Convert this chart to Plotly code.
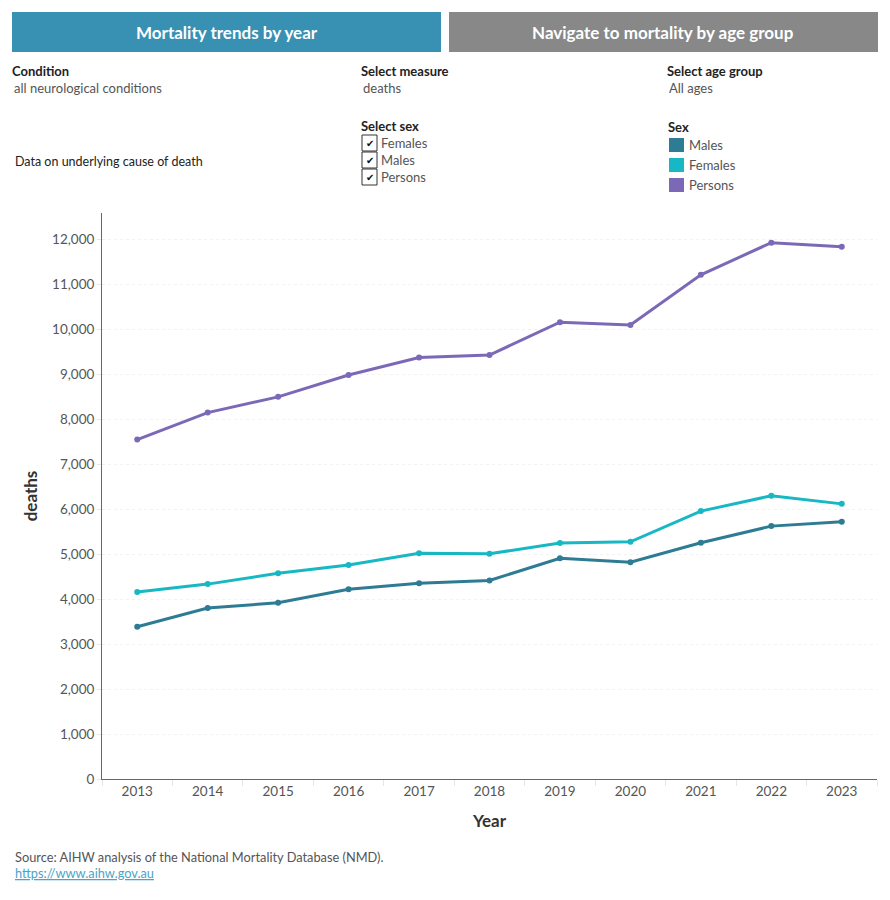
import plotly.graph_objects as go

years = [2013, 2014, 2015, 2016, 2017, 2018, 2019, 2020, 2021, 2022, 2023]
persons = [7550, 8150, 8500, 8985, 9375, 9430, 10160, 10100, 11215, 11930, 11840]
females = [4160, 4335, 4575, 4760, 5020, 5010, 5250, 5275, 5960, 6300, 6120]
males = [3385, 3805, 3920, 4220, 4355, 4415, 4910, 4820, 5255, 5625, 5720]

series_names = ["Males", "Females", "Persons"]
series_colors = {"Males": "#2e7b94", "Females": "#17b8c4", "Persons": "#7b69b8"}
series_values = {"Males": males, "Females": females, "Persons": persons}
y_ticks = [0, 1000, 2000, 3000, 4000, 5000, 6000, 7000, 8000, 9000, 10000, 11000, 12000]

W, H = 890, 900
L, R, T, B = 102, 877, 213, 779
FONT = "Lato"


def px(x):
    return (x - L) / (R - L)


def py(y):
    return (B - y) / (B - T)


fig = go.Figure()
for name in ["Persons", "Females", "Males"]:
    fig.add_trace(go.Scatter(
        x=years, y=series_values[name], mode="lines+markers", name=name,
        line=dict(color=series_colors[name], width=3),
        marker=dict(color=series_colors[name], size=6),
        showlegend=False,
    ))

shapes = []
annotations = []

# header buttons
shapes.append(dict(type="rect", xref="paper", yref="paper", x0=px(12), x1=px(441), y0=py(52), y1=py(12),
                   fillcolor="#3890b3", line=dict(width=0), layer="above"))
shapes.append(dict(type="rect", xref="paper", yref="paper", x0=px(449), x1=px(878), y0=py(52), y1=py(12),
                   fillcolor="#888888", line=dict(width=0), layer="above"))
annotations.append(dict(text="<b>Mortality trends by year</b>", x=px(227), y=py(33), xref="paper", yref="paper",
                        showarrow=False, xanchor="center", yanchor="middle",
                        font=dict(family=FONT, size=17, color="white")))
annotations.append(dict(text="<b>Navigate to mortality by age group</b>", x=px(663), y=py(33), xref="paper", yref="paper",
                        showarrow=False, xanchor="center", yanchor="middle",
                        font=dict(family=FONT, size=17, color="white")))


def txt(s, x, y, size=12, color="#333333", bold=False):
    annotations.append(dict(text=("<b>%s</b>" % s) if bold else s, x=px(x - 2), y=py(y), xref="paper", yref="paper",
                            showarrow=False, xanchor="left", yanchor="middle",
                            font=dict(family=FONT, size=size, color=color)))


txt("Condition", 12, 71, 13, "#222222", True)
txt("all neurological conditions", 14, 88, 13, "#555555")
txt("Select measure", 361, 71, 13, "#222222", True)
txt("deaths", 363, 88, 13, "#555555")
txt("Select age group", 667, 71, 13, "#222222", True)
txt("All ages", 669, 88, 13, "#555555")
txt("Data on underlying cause of death", 15, 161, 12.5, "#222222")
txt("Select sex", 361, 126, 13, "#222222", True)
txt("Sex", 668, 127, 13, "#222222", True)

# checkboxes
for i, name in enumerate(["Females", "Males", "Persons"]):
    y0 = 135 + i * 17
    shapes.append(dict(type="rect", xref="paper", yref="paper", x0=px(362), x1=px(377), y0=py(y0 + 16), y1=py(y0),
                       line=dict(color="#333333", width=1), fillcolor="white", layer="above"))
    annotations.append(dict(text="✔", x=px(369.5), y=py(y0 + 8.5), xref="paper", yref="paper", showarrow=False,
                            xanchor="center", yanchor="middle",
                            font=dict(family="DejaVu Sans", size=10, color="#111111")))
    txt(name, 381, y0 + 8, 13, "#555555")

# legend
for i, name in enumerate(series_names):
    y0 = 138 + i * 20
    shapes.append(dict(type="rect", xref="paper", yref="paper", x0=px(669), x1=px(684), y0=py(y0 + 14), y1=py(y0),
                       line=dict(width=0), fillcolor=series_colors[name], layer="above"))
    txt(name, 689, y0 + 7, 13, "#555555")

# source
txt("Source: AIHW analysis of the National Mortality Database (NMD).", 15, 857, 12.8, "#555555")
annotations.append(dict(text='<a href="https://www.aihw.gov.au" style="color:#4aa3c8"><u>https://www.aihw.gov.au</u></a>',
                        x=px(13), y=py(873), xref="paper", yref="paper", showarrow=False,
                        xanchor="left", yanchor="middle", font=dict(family=FONT, size=12.8, color="#4aa3c8")))

fig.update_layout(
    width=W, height=H,
    margin=dict(l=L, r=W - R, t=T, b=H - B, pad=0),
    paper_bgcolor="white", plot_bgcolor="white",
    font=dict(family=FONT, size=13, color="#555555"),
    shapes=shapes, annotations=annotations,
    showlegend=False,
    xaxis=dict(
        range=[2012.5, 2023.5], tickmode="array", tickvals=years, ticktext=[str(y) for y in years],
        showgrid=False, zeroline=False, showline=True, linecolor="#666666", linewidth=1,
        ticks="", tickfont=dict(family=FONT, size=13.5, color="#555555"),
        minor=dict(tick0=2012.5, dtick=1, ticks="outside", ticklen=6, tickcolor="#e6e6e6", showgrid=False),
        title=dict(text="<b>Year</b>", font=dict(family=FONT, size=17, color="#333333"), standoff=16),
        fixedrange=True,
    ),
    yaxis=dict(
        range=[0, 12590], tickmode="array", tickvals=y_ticks, ticktext=[f"{v:,}" for v in y_ticks],
        showgrid=True, gridcolor="#f2f2f2", gridwidth=1, griddash="dot", zeroline=False,
        showline=True, linecolor="#666666", linewidth=1,
        ticks="outside", ticklen=4, tickcolor="#e6e6e6",
        tickfont=dict(family=FONT, size=13.5, color="#555555"),
        title=dict(text="<b>deaths</b>", font=dict(family=FONT, size=17, color="#333333"), standoff=10),
        fixedrange=True,
    ),
)

fig.write_html("out.html")
